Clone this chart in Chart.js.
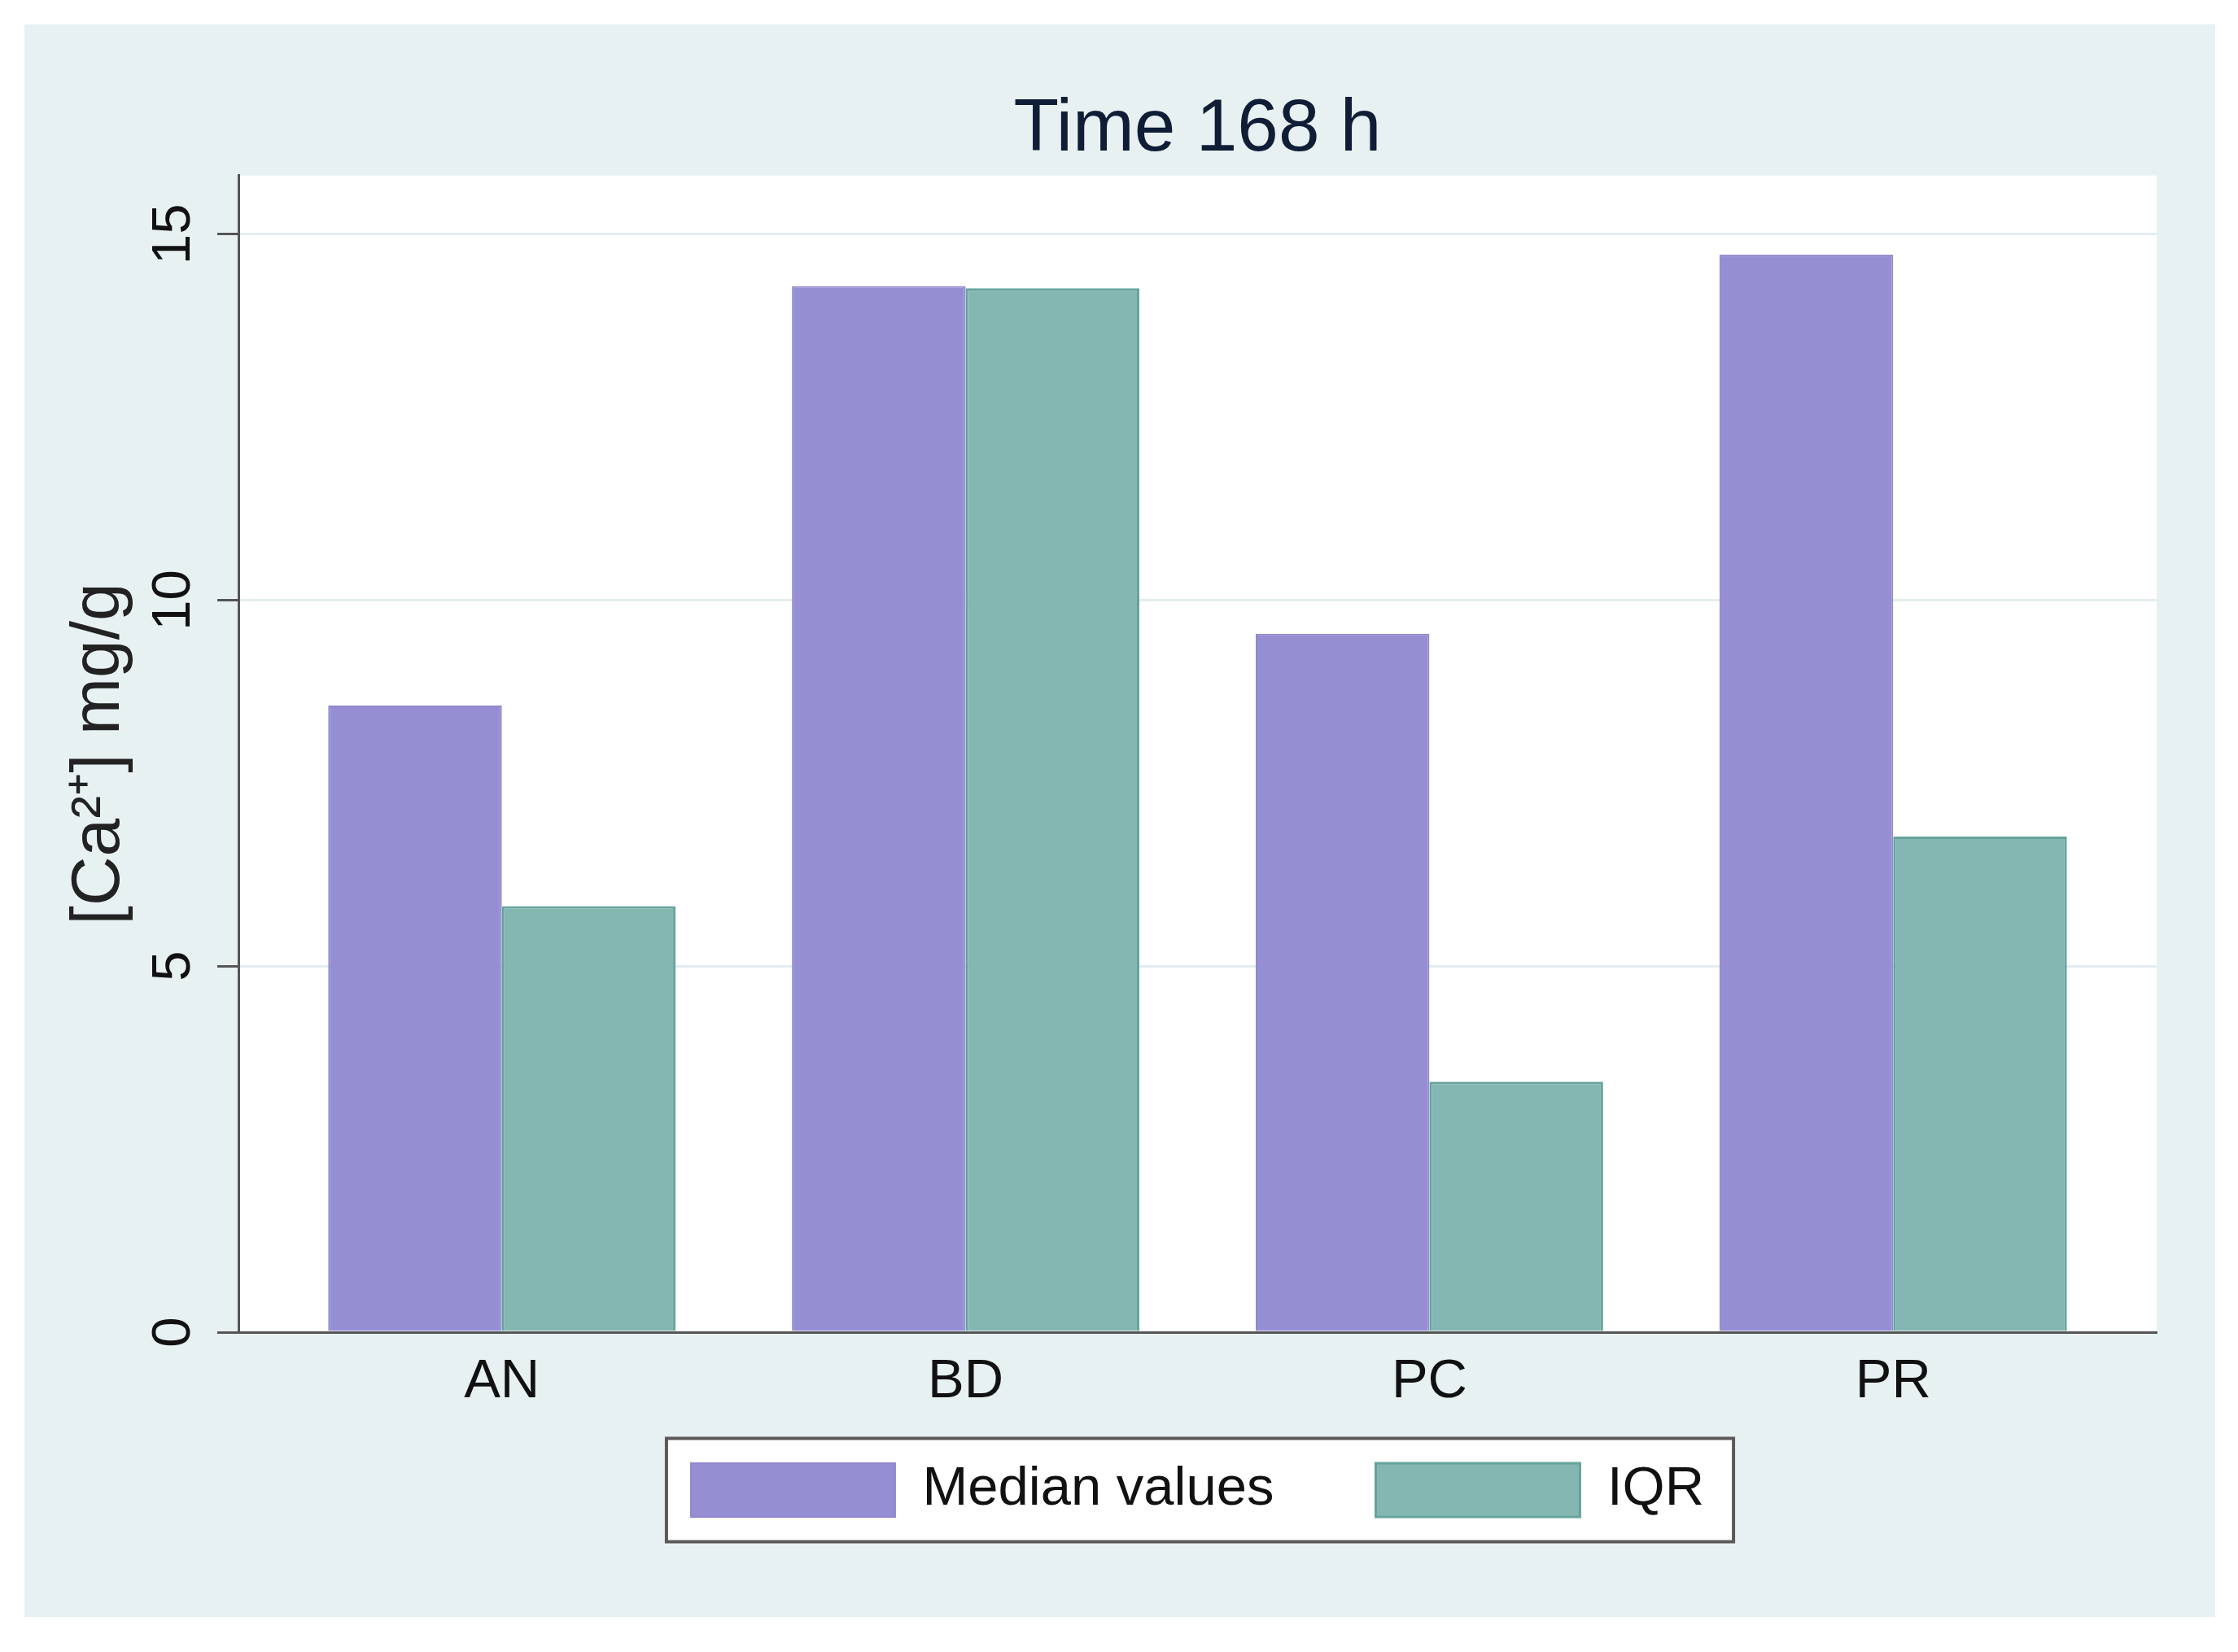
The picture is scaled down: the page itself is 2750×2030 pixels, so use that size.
<!DOCTYPE html>
<html lang="en">
<head>
<meta charset="UTF-8">
<title>Time 168 h</title>
<script src="https://cdn.jsdelivr.net/npm/chart.js@4.4.1/dist/chart.umd.min.js"></script>
<style>
  html, body { margin: 0; padding: 0; background: #ffffff; }
  #graphRegion {
    position: absolute;
    left: 30px;
    top: 30px;
    width: 2692px;
    height: 1957px;
    background: #e8f1f2;
  }
</style>
</head>
<body>
<div id="graphRegion"><canvas id="barChart"></canvas></div>
<script>
// データ
const categories = ["AN", "BD", "PC", "PR"];
const medianValues = [8.56, 14.29, 9.54, 14.72];
const iqrValues = [5.82, 14.26, 3.42, 6.77];
const yTickValues = [0, 5, 10, 15];
const seriesNames = ["Median values", "IQR"];

const FONT = "'Liberation Sans', Arial, Helvetica, sans-serif";
Chart.defaults.font.family = FONT;

// プロット領域の白背景と凡例の枠
const plotBackground = {
  id: "plotBackground",
  beforeDraw(chart) {
    const { ctx, chartArea } = chart;
    ctx.save();
    ctx.fillStyle = "#ffffff";
    ctx.fillRect(
      chartArea.left,
      chartArea.top,
      chartArea.right - chartArea.left,
      chartArea.bottom - chartArea.top
    );

    const boxes = chart.legend && chart.legend.legendHitBoxes;
    if (boxes && boxes.length) {
      const first = boxes[0];
      const last = boxes[boxes.length - 1];
      const pad = 30;
      const x0 = first.left - pad;
      const x1 = last.left + last.width + pad + 6;
      const y0 = first.top - pad;
      const y1 = first.top + first.height + pad;
      ctx.fillStyle = "#ffffff";
      ctx.fillRect(x0, y0, x1 - x0, y1 - y0);
      ctx.lineWidth = 4;
      ctx.strokeStyle = "#5a5a5a";
      ctx.strokeRect(x0, y0, x1 - x0, y1 - y0);
    }
    ctx.restore();
  },
};

// グラフの描画
function drawChart() {
  const ctx = document.getElementById("barChart");

  new Chart(ctx, {
    type: "bar",
    data: {
      datasets: [
        {
          label: seriesNames[0],
          data: medianValues.map((v, i) => ({ x: i, y: v })),
          backgroundColor: "#968ed3",
          borderColor: "#8f87d0",
          borderWidth: 2,
          categoryPercentage: 0.749,
          barPercentage: 1.0,
        },
        {
          label: seriesNames[1],
          data: iqrValues.map((v, i) => ({ x: i, y: v })),
          backgroundColor: "#84b7b2",
          borderColor: "#66a39c",
          borderWidth: 3,
          categoryPercentage: 0.749,
          barPercentage: 1.0,
        },
      ],
    },
    options: {
      responsive: true,
      maintainAspectRatio: false,
      animation: false,
      layout: {
        padding: { left: 0, right: 72, top: 0, bottom: 112.5 },
      },
      plugins: {
        title: {
          display: true,
          text: "Time 168 h",
          fullSize: false,
          color: "#0f1d36",
          font: { size: 91, weight: "normal" },
          padding: { top: 75, bottom: 1.5 },
        },
        legend: {
          display: true,
          position: "bottom",
          fullSize: false,
          labels: {
            boxWidth: 251,
            boxHeight: 66,
            padding: 125,
            color: "#111111",
            font: { size: 67 },
          },
        },
        tooltip: { enabled: false },
      },
      scales: {
        x: {
          type: "linear",
          offset: false,
          min: -0.568,
          max: 3.568,
          grid: { display: false, drawTicks: false },
          border: { display: true, color: "#555555", width: 3 },
          afterBuildTicks: function (scale) {
            scale.ticks = categories.map((c, i) => ({ value: i }));
          },
          afterFit: function (scale) {
            scale.height = 35.5;
          },
          // mirror にするとラベルがスケール枠でクリップされない（凡例と重ねるため）
          ticks: {
            mirror: true,
            padding: -102,
            autoSkip: false,
            maxRotation: 0,
            color: "#111111",
            font: { size: 67 },
            callback: function (value) {
              return categories[value];
            },
          },
        },
        y: {
          min: 0,
          max: 15.8,
          afterBuildTicks: function (scale) {
            scale.ticks = yTickValues.map((v) => ({ value: v }));
          },
          afterFit: function (scale) {
            scale.width = 263;
          },
          grid: {
            color: "#e3edef",
            lineWidth: 3,
            drawTicks: true,
            tickLength: 26,
            tickColor: "#555555",
            tickWidth: 3,
          },
          border: { display: true, color: "#555555", width: 3 },
          ticks: {
            minRotation: 90,
            maxRotation: 90,
            crossAlign: "center",
            padding: 15,
            color: "#111111",
            font: { size: 67 },
          },
          title: {
            display: true,
            text: "[Ca²⁺] mg/g",
            color: "#222222",
            font: { size: 84 },
            padding: { top: 42, bottom: 0 },
          },
        },
      },
    },
    plugins: [plotBackground],
  });
}

document.addEventListener("DOMContentLoaded", drawChart);
</script>
</body>
</html>
